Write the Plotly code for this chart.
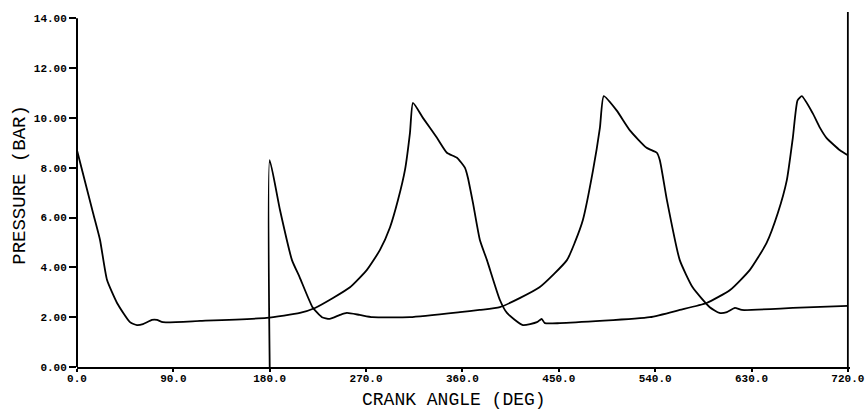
import plotly.graph_objects as go

# Cylinder A pressure trace (crank angle deg, pressure bar)
angle_a = [0, 15, 21.5, 28, 37.4, 49.5, 56, 61.6, 70, 74.7, 80.3, 115, 177, 208.2, 222.3,
           239.1, 255, 270.8, 283, 292.3, 299.8, 306.3, 311, 313.8, 323.1, 336.2, 345.5,
           354.9, 362.3, 365.1, 369.8, 376.3, 382.9, 395, 401.6, 416.5, 429.6, 434, 437,
           451, 535, 563, 588, 610, 628.5, 644, 654.6, 663, 668.6, 673, 677, 687, 694,
           700, 712.6, 720]
press_a = [8.7, 6.18, 5.1, 3.5, 2.57, 1.8, 1.68, 1.72, 1.89, 1.89, 1.8, 1.85, 1.97, 2.17, 2.37,
           2.77, 3.2, 3.9, 4.7, 5.6, 6.7, 7.9, 9.4, 10.6, 10.0, 9.2, 8.6,
           8.4, 8.0, 7.6, 6.6, 5.1, 4.29, 2.69, 2.17, 1.68, 1.8, 1.93, 1.76,
           1.76, 2.0, 2.29, 2.57, 3.09, 3.9, 4.97, 6.18, 7.5, 9.2, 10.7, 10.87, 10.2, 9.6,
           9.2, 8.7, 8.5]

# Cylinder B pressure trace (starts at 180 deg, pen drop from zero)
angle_b = [180, 180, 189.6, 200.8, 208, 220, 228.8, 236, 245.6, 252, 264, 276, 311, 357.7,
           376, 395, 432, 457.6, 465, 472.5, 482, 488.4, 492, 504, 516.4, 532, 541.6,
           544.4, 551, 563, 575, 591, 600, 607, 614.5, 621, 668.6, 720]
press_b = [0, 8.3, 6.3, 4.29, 3.6, 2.4, 2.0, 1.93, 2.09, 2.17, 2.09, 2.0, 2.0, 2.2,
           2.29, 2.4, 3.2, 4.29, 5.0, 5.9, 7.9, 9.6, 10.87, 10.3, 9.5, 8.8, 8.6,
           8.3, 6.7, 4.29, 3.2, 2.4, 2.17, 2.2, 2.37, 2.29, 2.37, 2.45]

# Pen return stroke at end of cycle
angle_end = [720, 720]
press_end = [0, 14.25]

x_ticks = [0, 90, 180, 270, 360, 450, 540, 630, 720]
x_ticktext = ["0.0", "90.0", "180.0", "270.0", "360.0", "450.0", "540.0", "630.0", "720.0"]
y_ticks = [0, 2, 4, 6, 8, 10, 12, 14]
y_ticktext = ["0.00", "2.00", "4.00", "6.00", "8.00", "10.00", "12.00", "14.00"]

line_style = dict(color="black", width=1.8)
fig = go.Figure()
fig.add_trace(go.Scatter(x=angle_a, y=press_a, mode="lines",
                         line=dict(line_style, shape="spline", smoothing=0.5)))
fig.add_trace(go.Scatter(x=angle_b, y=press_b, mode="lines",
                         line=dict(line_style, shape="spline", smoothing=0.5)))
fig.add_trace(go.Scatter(x=angle_end, y=press_end, mode="lines", line=line_style))

tick_font = dict(family="Liberation Mono", size=11, color="black", weight="bold")
fig.update_layout(
    width=865, height=412,
    margin=dict(l=77, r=15, t=12, b=45),
    paper_bgcolor="white", plot_bgcolor="white",
    showlegend=False,
    xaxis=dict(range=[0, 722], tickvals=x_ticks, ticktext=x_ticktext, showgrid=False,
               zeroline=False, showline=True, linecolor="black", linewidth=2,
               ticks="outside", ticklen=3, tickwidth=1.5, tickcolor="black", tickfont=tick_font,
               ticklabelstandoff=-3, automargin=False),
    yaxis=dict(range=[0, 14.25], tickvals=y_ticks, ticktext=y_ticktext, showgrid=False,
               zeroline=False, showline=False, automargin=False,
               ticks="outside", ticklen=7, tickwidth=1.5, tickcolor="black", tickfont=tick_font),
    shapes=[dict(type="line", xref="paper", yref="y", x0=0, x1=0, y0=0, y1=14,
                 line=dict(color="black", width=2))],
    annotations=[
        dict(text="CRANK ANGLE (DEG)", xref="paper", yref="paper", x=0.4877, y=-0.093,
             xanchor="center", yanchor="middle", showarrow=False,
             font=dict(family="Liberation Mono", size=18, color="black")),
        dict(text="PRESSURE (BAR)", xref="paper", yref="paper", x=-0.0739, y=0.513,
             xanchor="center", yanchor="middle", textangle=-90, showarrow=False,
             font=dict(family="Liberation Mono", size=19, color="black")),
    ],
)
fig.write_html("out.html")
